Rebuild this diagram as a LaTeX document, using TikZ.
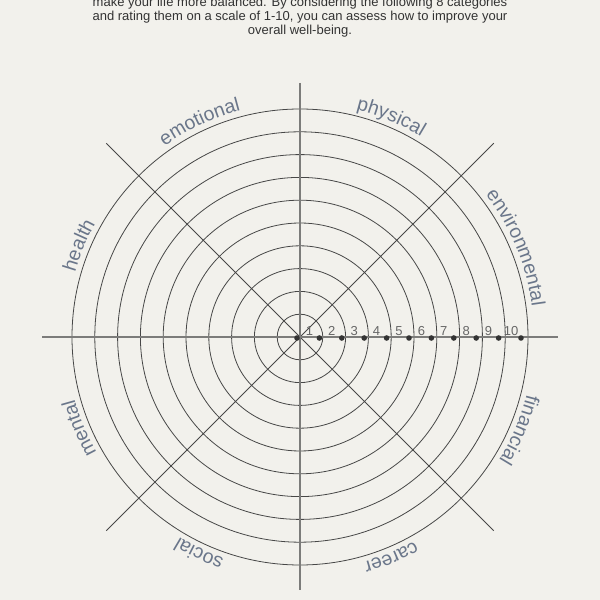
\documentclass[tikz,border=0pt]{standalone}
\usepackage{fontspec}
\setmainfont{Liberation Sans}
\usetikzlibrary{decorations.text,calc}
\definecolor{bg}{HTML}{F2F1EC}
\definecolor{ink}{HTML}{474747}
\definecolor{axisc}{HTML}{7C7C7A}
\definecolor{lab}{HTML}{6A768A}
\definecolor{txt}{HTML}{333333}
\definecolor{numc}{HTML}{666666}
\newcommand\labfont{\fontsize{19.5}{19.5}\selectfont}
\tikzset{
  ring/.style={draw=ink, line width=0.8pt},
  axisline/.style={draw=axisc, line width=1.3pt},
  diag/.style={draw=ink, line width=0.8pt},
  dotc/.style={fill=black!80},
  num/.style={text=numc, font=\fontsize{13}{13}\selectfont, inner sep=0pt, anchor=base},
  title/.style={text=txt, font=\fontsize{13}{13}\selectfont, anchor=base, inner sep=0pt},
  labarc/.style={decorate, decoration={text along path, text align=center, text color=lab, text={|\labfont|#1}}}
}
\begin{document}
\begin{tikzpicture}[x=1pt,y=1pt]
\fill[bg] (0,0) rectangle (600,600);
\useasboundingbox (0,0) rectangle (600,600);
\coordinate (C) at (300,263);
% title
\node[title] (t1) at (300,593) {make your life more balanced. By considering the following 8 categories};
\node[title] (t2) at (300,579) {and rating them on a scale of 1-10, you can assess how to improve your};
\node[title] (t3) at (300,565) {overall well-being.};
% rings
\foreach \k in {1,...,10} \path[ring] (C) circle[radius=22.8*\k];
% diagonals
\path[diag] (C) ++(135:274) -- ++(-45:548);
\path[diag] (C) ++(45:274) -- ++(225:548);
% axes
\path[axisline] (C) ++(0,254) -- ++(0,-507);
\path[axisline] (C) ++(-258,0) -- ++(516,0);
% dots
\foreach \k in {0,...,10} \fill[dotc] ($(C)+({-3+22.4*\k},-1)$) circle[radius=2.8];
% numbers
\foreach \k in {1,...,10} \node[num] (n\k) at ($(C)+({-13+22.4*\k},1.5)$) {\k};
% labels
\path[labarc=emotional] (C) ++(155:234) arc[start angle=155, end angle=75, radius=234];
\path[labarc=physical] (C) ++(107.5:234) arc[start angle=107.5, end angle=27.5, radius=234];
\path[labarc=environmental] (C) ++(62.5:234) arc[start angle=62.5, end angle=-17.5, radius=234];
\path[labarc=financial] (C) ++(17:234) arc[start angle=17, end angle=-63, radius=234];
\path[labarc=career] (C) ++(-27.5:234) arc[start angle=-27.5, end angle=-107.5, radius=234];
\path[labarc=social] (C) ++(-75:234) arc[start angle=-75, end angle=-155, radius=234];
\path[labarc=mental] (C) ++(-117.5:234) arc[start angle=-117.5, end angle=-197.5, radius=234];
\path[labarc=health] (C) ++(197.5:234) arc[start angle=197.5, end angle=117.5, radius=234];
\end{tikzpicture}
\end{document}
